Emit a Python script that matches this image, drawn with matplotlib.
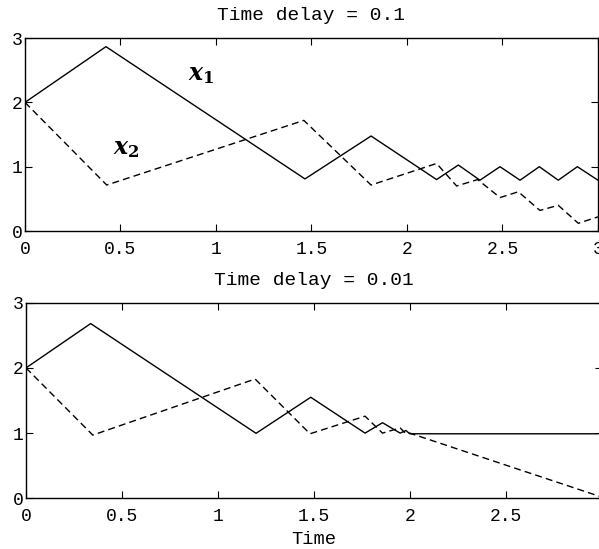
import matplotlib
matplotlib.use("Agg")
from matplotlib import pyplot as plt

# Trayectorias de x1 (continua) y x2 (discontinua) para cada retardo
t_x1_01 = [0, 0.424, 1.466, 1.812, 2.155, 2.269, 2.382, 2.487, 2.592, 2.693, 2.792, 2.892, 3.0]
x1_01 = [2, 2.866, 0.81, 1.477, 0.80, 1.026, 0.79, 1.0, 0.79, 1.0, 0.79, 1.0, 0.79]
t_x2_01 = [0, 0.428, 1.46, 1.812, 2.155, 2.26, 2.37, 2.487, 2.583, 2.696, 2.792, 2.897, 3.0]
x2_01 = [2, 0.715, 1.72, 0.715, 1.05, 0.70, 0.80, 0.52, 0.61, 0.32, 0.40, 0.12, 0.22]

t_x1_001 = [0, 0.337, 1.199, 1.484, 1.767, 1.858, 1.95, 1.98, 2.0, 2.98]
x1_001 = [2, 2.68, 0.997, 1.55, 1.0, 1.16, 1.0, 1.04, 0.99, 0.99]
t_x2_001 = [0, 0.348, 1.194, 1.48, 1.767, 1.858, 1.95, 1.98, 2.0, 3.0]
x2_001 = [2, 0.97, 1.83, 0.99, 1.26, 1.0, 1.08, 0.99, 1.0, 0.02]

titles = ["Time delay = 0.1", "Time delay = 0.01"]
xticks_top = [0, 0.5, 1, 1.5, 2, 2.5, 3]
xticks_bottom = [0, 0.5, 1, 1.5, 2, 2.5]
yticks = [0, 1, 2, 3]

mono = "Liberation Mono"
plt.rcParams["mathtext.fontset"] = "custom"
plt.rcParams["mathtext.it"] = "DejaVu Serif:italic:bold"
plt.rcParams["mathtext.rm"] = "DejaVu Serif:bold"

fig = plt.figure(figsize=(5.99, 5.49), dpi=100)
ax1 = fig.add_axes([0.0417, 0.5792, 0.9566, 0.3515])
ax2 = fig.add_axes([0.0434, 0.0923, 0.961, 0.3563])

dash = (0, (5, 3))
ax1.plot(t_x1_01, x1_01, color="black", lw=1.0)
ax1.plot(t_x2_01, x2_01, color="black", lw=1.0, linestyle=dash)
ax2.plot(t_x1_001, x1_001, color="black", lw=1.0)
ax2.plot(t_x2_001, x2_001, color="black", lw=1.0, linestyle=dash)

ax1.text(0.925, 2.44, r"$x_1$", fontsize=17, ha="center", va="center")
ax1.text(0.532, 1.29, r"$x_2$", fontsize=17, ha="center", va="center")

for ax, title, xt in zip((ax1, ax2), titles, (xticks_top, xticks_bottom)):
    ax.set_xlim(0, 3)
    ax.set_ylim(0, 3)
    ax.set_xticks(xt)
    ax.set_xticklabels([f"{v:g}" for v in xt], fontfamily=mono, fontsize=13)
    ax.set_yticks(yticks)
    ax.set_yticklabels([str(v) for v in yticks], fontfamily=mono, fontsize=13)
    ax.tick_params(direction="in", top=True, right=True, length=5, width=0.8)
    ax.tick_params(axis="x", pad=7)
    ax.tick_params(axis="y", pad=2)
    ax.set_title(title, fontfamily=mono, fontsize=14, pad=13)
    for s in ax.spines.values():
        s.set_linewidth(1.0)

ax2.set_xlabel("Time", fontfamily=mono, fontsize=13.5, labelpad=4)

fig.savefig("out.png", dpi=100)
